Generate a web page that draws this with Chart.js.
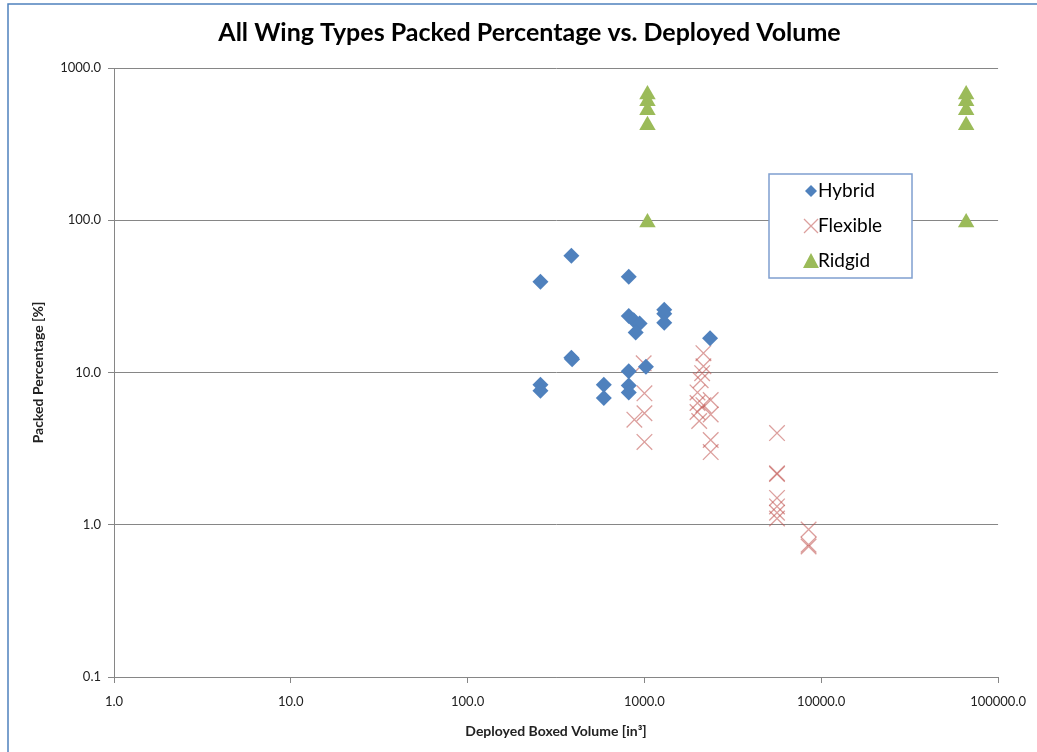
<!DOCTYPE html>
<html>
<head>
<meta charset="utf-8">
<script src="https://cdn.jsdelivr.net/npm/chart.js@4/dist/chart.umd.min.js"></script>
<style>
	body { margin: 0; background: #fff; }
	#wrap { width: 1037px; height: 752px; }
</style>
</head>
<body>
<div id="wrap"><canvas id="chart1" width="1037" height="752"></canvas></div>
<script>
//chart values
const chartTitle = 'All Wing Types Packed Percentage vs. Deployed Volume';
const xAxisLabel = 'Deployed Boxed Volume [in\u00B3]';
const yAxisLabel = 'Packed Percentage [%]';
const seriesNames = ['Hybrid', 'Flexible', 'Ridgid'];
const xTicks = [1, 10, 100, 1000, 10000, 100000];
const yTicks = [0.1, 1, 10, 100, 1000];

const hybridX = [258, 386, 815, 815, 869, 939, 892, 1294, 1294, 1294, 2350, 386, 390, 815, 1020, 258, 258, 589, 589, 815, 815];
const hybridY = [39.5, 58.5, 42.5, 23.5, 22, 21, 18.3, 25.8, 24.3, 21.2, 16.8, 12.5, 12.2, 10.2, 10.9, 8.3, 7.6, 8.3, 6.8, 8.2, 7.4];

const flexibleX = [990, 1000, 1000, 877, 1000, 2155, 2155, 2120, 2080, 1995, 2370, 1995, 2155, 1995, 2370, 2040, 2370, 2370, 5620, 5620, 5620, 5620, 5620, 5620, 5620, 8480, 8480, 8480];
const flexibleY = [11.5, 7.3, 5.4, 4.9, 3.5, 13.4, 11.0, 9.9, 8.9, 7.4, 6.6, 6.3, 6.1, 5.5, 5.3, 4.8, 3.6, 3.0, 4.0, 2.18, 2.15, 1.5, 1.32, 1.2, 1.1, 0.93, 0.74, 0.72];

const ridgidX = [1040, 1040, 1040, 1040, 1040, 66000, 66000, 66000, 66000, 66000];
const ridgidY = [671, 604, 527, 420, 96.5, 671, 604, 527, 420, 96.5];

const colors = ['#4F81BD', 'rgba(192,80,77,0.55)', '#9BBB59'];
const fontFamily = 'Lato, "Open Sans", sans-serif';

function toPoints(xs, ys) {
	return xs.map((x, i) => ({x: x, y: ys[i]}));
}

//white page, blue frame of the chart object and the centred title
const frame = {
	id: 'frame',
	beforeDraw(chart) {
		const ctx = chart.ctx;
		ctx.save();
		ctx.fillStyle = '#fff';
		ctx.fillRect(0, 0, chart.width, chart.height);
		ctx.strokeStyle = '#4F81BD';
		ctx.lineWidth = 1.5;
		ctx.beginPath();
		ctx.moveTo(8, chart.height);
		ctx.lineTo(8, 4);
		ctx.lineTo(chart.width, 4);
		ctx.stroke();
		ctx.font = 'bold 25px ' + fontFamily;
		ctx.fillStyle = '#000';
		ctx.textAlign = 'center';
		ctx.textBaseline = 'middle';
		ctx.fillText(chartTitle, 529.5, 33);
		ctx.restore();
	}
};

//legend box sitting inside the plot, like the excel one
const insideLegend = {
	id: 'insideLegend',
	afterDraw(chart) {
		const ctx = chart.ctx;
		const area = chart.chartArea;
		const bx = area.left + 655, by = area.top + 106, bw = 143, bh = 104;
		ctx.save();
		ctx.fillStyle = '#fff';
		ctx.fillRect(bx, by, bw, bh);
		ctx.strokeStyle = '#7F9FCF';
		ctx.lineWidth = 1.5;
		ctx.strokeRect(bx, by, bw, bh);
		ctx.font = '19px ' + fontFamily;
		ctx.textBaseline = 'middle';
		chart.data.datasets.forEach((ds, i) => {
			const mx = bx + 42, my = by + 17 + i * 35;
			ctx.beginPath();
			if(ds.pointStyle == 'rectRot') {
				ctx.fillStyle = ds.backgroundColor;
				ctx.moveTo(mx - 6, my); ctx.lineTo(mx, my - 6); ctx.lineTo(mx + 6, my); ctx.lineTo(mx, my + 6);
				ctx.closePath();
				ctx.fill();
			} else if(ds.pointStyle == 'crossRot') {
				ctx.strokeStyle = ds.borderColor;
				ctx.lineWidth = 1.3;
				ctx.moveTo(mx - 7, my - 7); ctx.lineTo(mx + 7, my + 7);
				ctx.moveTo(mx + 7, my - 7); ctx.lineTo(mx - 7, my + 7);
				ctx.stroke();
			} else {
				ctx.fillStyle = ds.backgroundColor;
				ctx.moveTo(mx, my - 8); ctx.lineTo(mx + 8, my + 7); ctx.lineTo(mx - 8, my + 7);
				ctx.closePath();
				ctx.fill();
			}
			ctx.fillStyle = '#000';
			ctx.fillText(ds.label, mx + 7, my);
		});
		ctx.restore();
	}
};

const tickFont = {family: fontFamily, size: 13};
const titleFont = {family: fontFamily, size: 14, weight: 'bold'};

let config = {
	type: 'scatter',
	data: {
		datasets: [
			{label: seriesNames[0], data: toPoints(hybridX, hybridY), pointStyle: 'rectRot', pointRadius: 8, backgroundColor: colors[0], borderColor: colors[0], borderWidth: 0},
			{label: seriesNames[1], data: toPoints(flexibleX, flexibleY), pointStyle: 'crossRot', pointRadius: 11, backgroundColor: colors[1], borderColor: colors[1], borderWidth: 1.3},
			{label: seriesNames[2], data: toPoints(ridgidX, ridgidY), pointStyle: 'triangle', pointRadius: 9.5, backgroundColor: colors[2], borderColor: colors[2], borderWidth: 0}
		]
	},
	options: {
		responsive: false,
		animation: false,
		layout: { padding: {left: 0, right: 35, top: 68, bottom: 0} },
		plugins: {
			legend: { display: false },
			tooltip: { enabled: false },
			title: { display: false }
		},
		scales: {
			x: {
				type: 'logarithmic',
				min: 1,
				max: 100000,
				afterBuildTicks: scale => { scale.ticks = xTicks.map(v => ({value: v, major: true})); },
				afterFit: scale => { scale.height = 75; },
				grid: { drawOnChartArea: false, drawTicks: true, tickLength: 6, color: '#868686' },
				border: { color: '#868686' },
				ticks: { autoSkip: false, maxRotation: 0, padding: 11, color: '#222', font: tickFont, callback: v => Number(v).toFixed(1) },
				title: { display: true, text: xAxisLabel, color: '#222', font: titleFont, padding: {top: 4, bottom: 12.6} }
			},
			y: {
				type: 'logarithmic',
				min: 0.1,
				max: 1000,
				afterBuildTicks: scale => { scale.ticks = yTicks.map(v => ({value: v, major: true})); },
				afterFit: scale => { scale.width = 114; },
				grid: { drawOnChartArea: true, drawTicks: true, tickLength: 6, color: '#868686' },
				border: { color: '#868686' },
				ticks: { autoSkip: false, padding: 7, color: '#222', font: tickFont, callback: v => Number(v).toFixed(1) },
				title: { display: true, text: yAxisLabel, color: '#222', font: titleFont, padding: {top: 29.6, bottom: 4} }
			}
		}
	},
	plugins: [frame, insideLegend]
};

window.container1 = new Chart(document.getElementById('chart1'), config);
</script>
</body>
</html>
